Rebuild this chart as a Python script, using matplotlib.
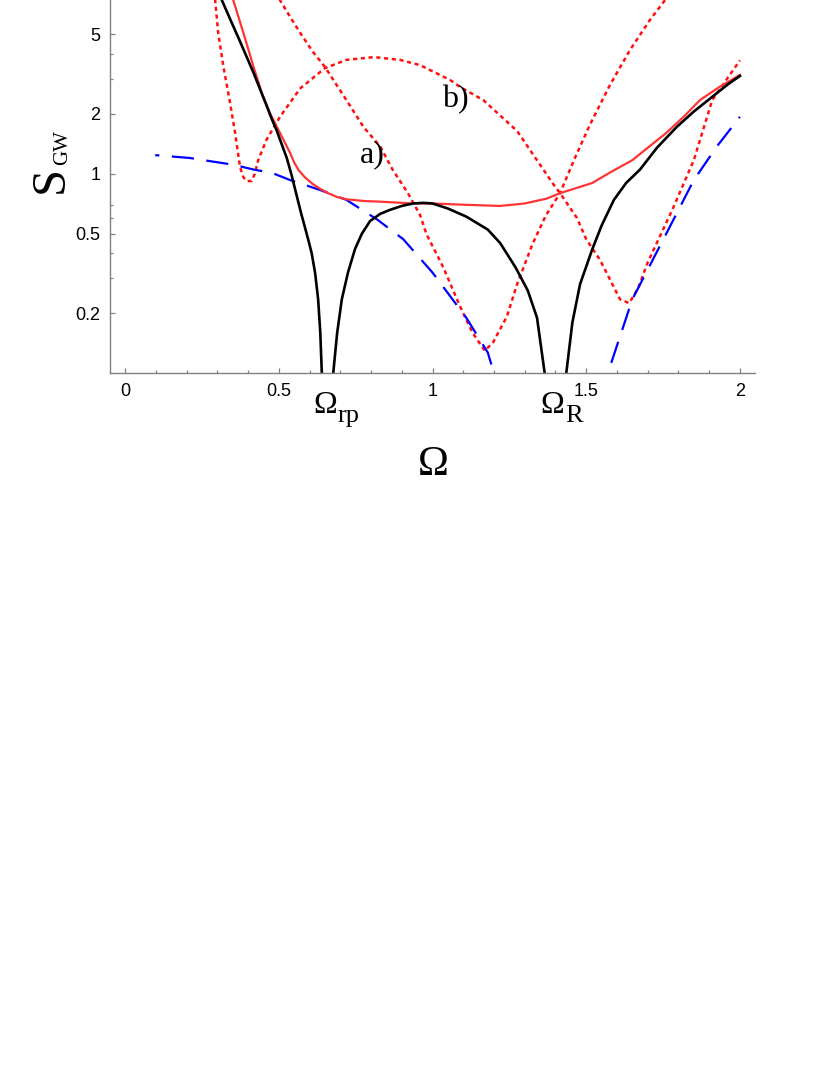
import matplotlib
matplotlib.use("Agg")
import matplotlib.pyplot as plt
from matplotlib.ticker import FixedLocator, FixedFormatter, NullFormatter

# --- data ---
omega_black = [0.31, 0.345, 0.374, 0.418, 0.46, 0.476, 0.493, 0.51, 0.526, 0.542, 0.558,
               0.572, 0.585, 0.597, 0.607, 0.618, 0.628, 0.635, 0.64, 0.652, 0.66,
               0.668, 0.677, 0.69, 0.705, 0.725, 0.748, 0.77, 0.797, 0.83, 0.862, 0.9,
               0.937, 0.97, 1.0, 1.05, 1.11, 1.15, 1.18, 1.22, 1.27, 1.31, 1.34, 1.365,
               1.385, 1.40, 1.415, 1.435, 1.455, 1.48, 1.52, 1.55, 1.59, 1.63, 1.675,
               1.73, 1.795, 1.85, 1.91, 1.96, 2.0]
s_black = [7.7, 5.8, 4.6, 3.2, 2.2, 1.9, 1.65, 1.4, 1.2, 0.98, 0.78,
           0.64, 0.54, 0.46, 0.40, 0.32, 0.235, 0.16, 0.1, 0.05, 0.03,
           0.05, 0.1, 0.16, 0.235, 0.32, 0.42, 0.5, 0.58, 0.63, 0.66, 0.69,
           0.71, 0.715, 0.71, 0.67, 0.61, 0.56, 0.525, 0.45, 0.34, 0.26, 0.19, 0.1,
           0.05, 0.03, 0.05, 0.1, 0.18, 0.28, 0.42, 0.55, 0.74, 0.9, 1.05,
           1.35, 1.72, 2.05, 2.43, 2.8, 3.09]

omega_red = [0.345, 0.352, 0.385, 0.418, 0.445, 0.472, 0.504, 0.537, 0.55, 0.565, 0.585,
             0.61, 0.635, 0.66, 0.69, 0.72, 0.78, 0.83, 0.937, 1.0, 1.1, 1.22, 1.3,
             1.37, 1.415, 1.47, 1.52, 1.58, 1.65, 1.7, 1.76, 1.82, 1.87, 1.93, 2.0]
s_red = [8.0, 7.4, 5.07, 3.43, 2.54, 2.0, 1.6, 1.27, 1.14, 1.04, 0.96,
         0.89, 0.84, 0.8, 0.765, 0.745, 0.73, 0.725, 0.71, 0.71, 0.70, 0.69, 0.71,
         0.75, 0.80, 0.85, 0.9, 1.02, 1.17, 1.35, 1.6, 1.95, 2.34, 2.7, 3.13]

# dotted curve labelled a)
omega_a = [0.5, 0.504, 0.54, 0.57, 0.61, 0.65, 0.72, 0.775, 0.83, 0.87, 0.92, 0.96,
           0.98, 1.035, 1.09, 1.13, 1.17, 1.197, 1.242, 1.275, 1.324, 1.369, 1.415,
           1.46, 1.512, 1.577, 1.642, 1.707, 1.756, 1.77]
s_a = [8.0, 7.4, 6.0, 5.07, 4.1, 3.43, 2.34, 1.72, 1.37, 1.05, 0.80, 0.62,
       0.5, 0.34, 0.216, 0.16, 0.13, 0.143, 0.193, 0.279, 0.44, 0.62, 0.80,
       1.17, 1.76, 2.78, 4.16, 5.89, 7.4, 8.0]

# dotted curve labelled b)
omega_b = [0.288, 0.293, 0.303, 0.32, 0.34, 0.358, 0.374, 0.385, 0.396, 0.412, 0.422,
           0.433, 0.46, 0.504, 0.57, 0.65, 0.72, 0.81, 0.894, 0.96, 1.057, 1.09,
           1.165, 1.275, 1.39, 1.415, 1.47, 1.50, 1.545, 1.61, 1.64, 1.67, 1.70,
           1.78, 1.85, 1.91, 2.0]
s_b = [9.0, 7.4, 5.07, 3.43, 2.34, 1.6, 1.08, 0.96, 0.92, 0.92, 1.0,
       1.17, 1.48, 1.93, 2.68, 3.38, 3.72, 3.84, 3.72, 3.5, 2.95, 2.72,
       2.34, 1.64, 0.9, 0.8, 0.6, 0.47, 0.37, 0.235, 0.225, 0.27, 0.36,
       0.66, 1.17, 2.34, 3.7]

omega_blue = [0.098, 0.21, 0.287, 0.352, 0.418, 0.478, 0.537, 0.634, 0.72, 0.82, 0.905,
              1.0, 1.11, 1.18, 1.2, 1.25, 1.35, 1.45, 1.53, 1.57, 1.65, 1.76, 1.85,
              1.925, 2.0]
s_blue = [1.24, 1.2, 1.15, 1.11, 1.05, 1.01, 0.93, 0.83, 0.74, 0.59, 0.47,
          0.32, 0.19, 0.127, 0.1, 0.06, 0.04, 0.05, 0.08, 0.1, 0.235, 0.5, 0.93,
          1.37, 1.93]

x_ticks = [0, 0.5, 1, 1.5, 2]
x_ticklabels = ["0", "0.5", "1", "1.5", "2"]
x_minor = [0.1, 0.2, 0.3, 0.4, 0.6, 0.7, 0.8, 0.9, 1.1, 1.2, 1.3, 1.4, 1.6, 1.7, 1.8, 1.9]
y_ticks = [0.2, 0.5, 1, 2, 5]
y_ticklabels = ["0.2", "0.5", "1", "2", "5"]
y_minor = [0.3, 0.4, 0.6, 0.7, 3, 4]

plt.rcParams['lines.scale_dashes'] = False

W, H = 830, 1075
fig = plt.figure(figsize=(W / 100, H / 100), dpi=100)
ax = fig.add_axes([110 / W, 1 - 373 / H, 645 / W, 373 / H])

ax.plot(omega_b, s_b, color='#ff1010', lw=1.8, linestyle=(0, (3, 2.6)))
ax.plot(omega_a, s_a, color='#ff1010', lw=1.8, linestyle=(0, (3, 2.6)))
ax.plot(omega_blue, s_blue, color='#0000ff', lw=1.6, linestyle=(13, (16, 9)))
ax.plot(omega_red, s_red, color='#ff3333', lw=1.6)
ax.plot(omega_black, s_black, color='black', lw=1.9)

ax.set_yscale('log')
ax.set_xlim(-0.049, 2.049)
ax.set_ylim(0.1005, 7.42)

ax.xaxis.set_major_locator(FixedLocator(x_ticks))
ax.xaxis.set_major_formatter(FixedFormatter(x_ticklabels))
ax.xaxis.set_minor_locator(FixedLocator(x_minor))
ax.yaxis.set_major_locator(FixedLocator(y_ticks))
ax.yaxis.set_major_formatter(FixedFormatter(y_ticklabels))
ax.yaxis.set_minor_locator(FixedLocator(y_minor))
ax.yaxis.set_minor_formatter(NullFormatter())

for s in ['top', 'right']:
    ax.spines[s].set_visible(False)
for s in ['left', 'bottom']:
    ax.spines[s].set_color('#808080')
    ax.spines[s].set_linewidth(1.0)

ax.tick_params(which='both', direction='in', color='#808080', width=0.9)
ax.tick_params(which='major', length=3.8, pad=7, labelsize=13)
ax.tick_params(which='minor', length=2.2)
for lab in ax.get_xticklabels() + ax.get_yticklabels():
    lab.set_family('Liberation Sans')

serif = 'Liberation Serif'

# curve labels
ax.text(0.803, 1.245, 'a)', family=serif, fontsize=23, ha='center', va='center')
ax.text(1.073, 2.34, 'b)', family=serif, fontsize=23, ha='center', va='center')

# resonance frequencies below the axis
tr = ax.get_xaxis_transform()
ax.text(0.611, -40 / 373, '\u03a9', family=serif, fontsize=23, transform=tr,
        ha='left', va='baseline', clip_on=False)
ax.text(0.690, -49 / 373, 'rp', family=serif, fontsize=19, transform=tr,
        ha='left', va='baseline', clip_on=False)
ax.text(1.350, -40 / 373, '\u03a9', family=serif, fontsize=23, transform=tr,
        ha='left', va='baseline', clip_on=False)
ax.text(1.431, -49 / 373, 'R', family=serif, fontsize=19, transform=tr,
        ha='left', va='baseline', clip_on=False)

# axis labels
ax.text(1.003, -102 / 373, '\u03a9', family=serif, fontsize=30, transform=tr,
        ha='center', va='baseline', clip_on=False)
fig.text(63 / W, 1 - 180 / H, 'S', family=serif, fontsize=35, rotation=90,
         rotation_mode='anchor', ha='center', va='baseline')
fig.text(67 / W, 1 - 148 / H, 'GW', family=serif, fontsize=15, rotation=90,
         rotation_mode='anchor', ha='center', va='baseline')

fig.savefig('out.png', dpi=100)
